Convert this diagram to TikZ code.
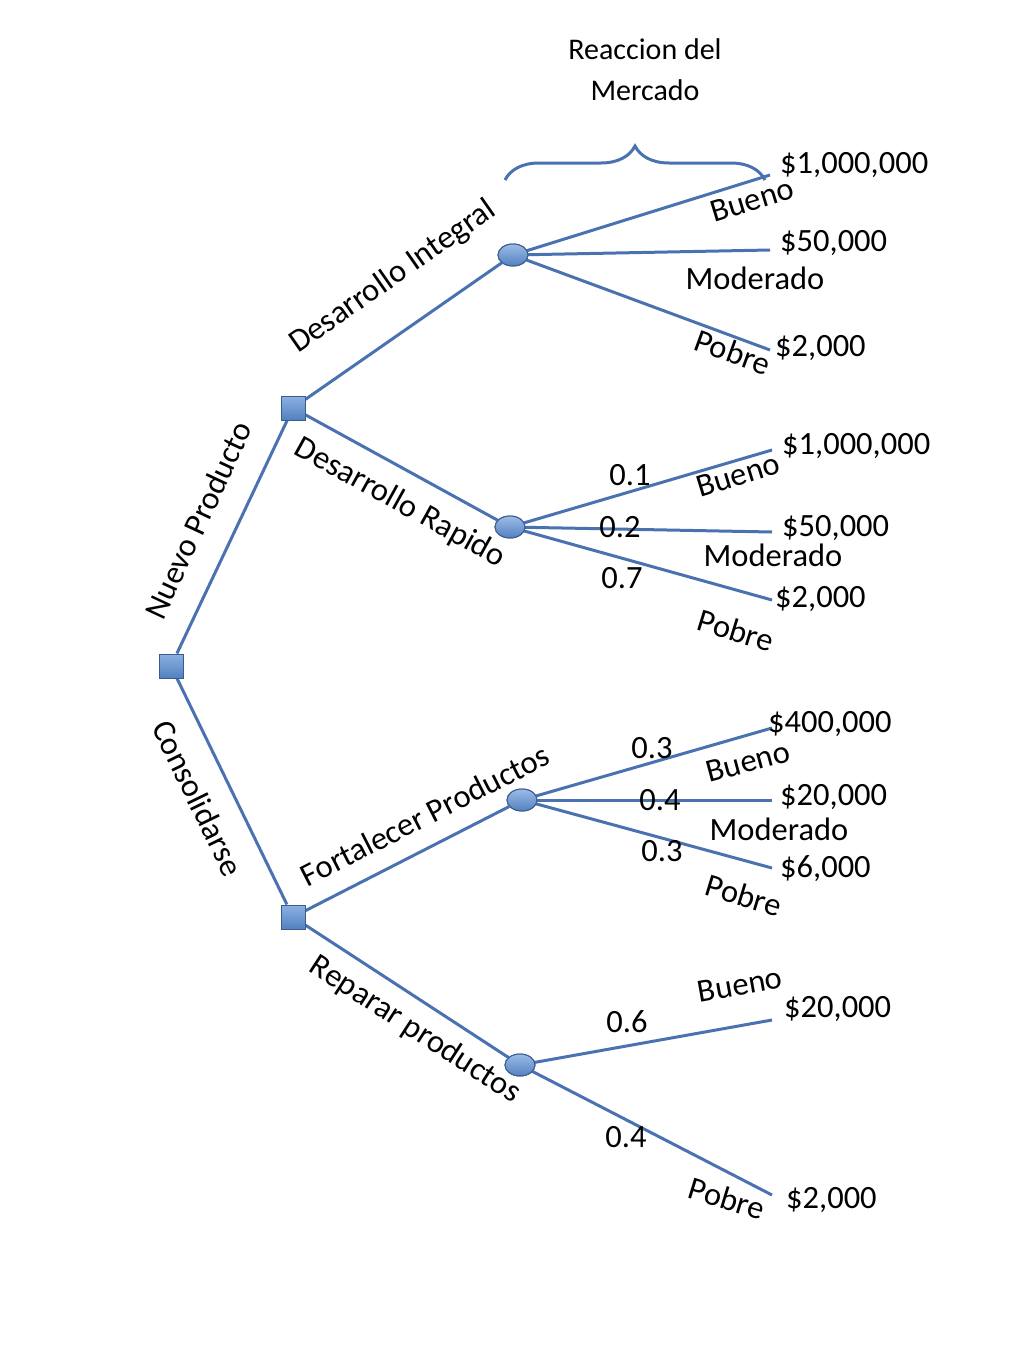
\documentclass[tikz,border=0pt]{standalone}
\usepackage{fontspec}
\setmainfont{Carlito}
\usetikzlibrary{decorations.pathreplacing,shapes.geometric}
\definecolor{ln}{HTML}{4A72B0}
\definecolor{nf}{HTML}{5B8FD6}
\begin{document}
\begin{tikzpicture}[x=1pt,y=-1pt,
  br/.style={draw=ln,line width=3pt},
  dec/.style={draw=ln!80!black,line width=1pt,minimum size=24pt,inner sep=0pt,top color=nf!70!white,bottom color=nf!90!black},
  chance/.style={ellipse,draw=ln!80!black,line width=1pt,minimum width=30pt,minimum height=22pt,inner sep=0pt,top color=nf!60!white,bottom color=nf!90!black},
  tx/.style={font=\fontsize{32.5}{38}\selectfont,inner sep=0pt},
  val/.style={tx,anchor=west}]
\useasboundingbox (0,0) rectangle (1024,1365);
\node[dec] (R) at (171,666) {};
\node[dec] (A) at (293,408) {};
\node[dec] (B) at (293,917) {};
\node[chance] (C1) at (513,255) {};
\node[chance] (C2) at (510,527) {};
\node[chance] (C3) at (522,800) {};
\node[chance] (C4) at (520,1065) {};
\foreach \n/\x/\y in {e11/770/175,e12/770/250,e13/770/350,e21/772/450,e22/772/532,e23/772/600,e31/772/728,e32/772/800,e33/772/868,e41/772/1020,e42/772/1195}
  \coordinate (\n) at (\x,\y);
\draw[br] (R)--(A); \draw[br] (R)--(B);
\draw[br] (A)--(C1); \draw[br] (A)--(C2);
\draw[br] (B)--(C3); \draw[br] (B)--(C4);
\foreach \c/\e in {C1/e11,C1/e12,C1/e13,C2/e21,C2/e22,C2/e23,C3/e31,C3/e32,C3/e33,C4/e41,C4/e42}
  \draw[br] (\c.center)--(\e);
\node[dec] at (R) {}; \node[dec] at (A) {}; \node[dec] at (B) {};
\node[chance] at (C1) {}; \node[chance] at (C2) {}; \node[chance] at (C3) {}; \node[chance] at (C4) {};
% values
\node[val] (v11) at (780,165) {\$1,000,000};
\node[val] (v12) at (780,243) {\$50,000};
\node[val] (v13) at (775,348) {\$2,000};
\node[val] (v21) at (782,446) {\$1,000,000};
\node[val] (v22) at (782,528) {\$50,000};
\node[val] (v23) at (775,599) {\$2,000};
\node[val] (v31) at (768,724) {\$400,000};
\node[val] (v32) at (780,797) {\$20,000};
\node[val] (v33) at (780,869) {\$6,000};
\node[val] (v41) at (784,1009) {\$20,000};
\node[val] (v42) at (786,1200) {\$2,000};
% branch labels
\node[tx,rotate=35] (lA) at (393,277) {Desarrollo Integral};
\node[tx,rotate=65] (lR) at (198,520) {Nuevo Producto};
\node[tx,rotate=-29] (lA2) at (400,503) {Desarrollo Rapido};
\node[tx,rotate=-64] (lB) at (198,798) {Consolidarse};
\node[tx,rotate=27] (lB1) at (425,815) {Fortalecer Productos};
\node[tx,rotate=-33] (lB2) at (415,1030) {Reparar productos};
% outcomes
\node[tx,rotate=17] (o11) at (752,200) {Bueno};
\node[tx] (o12) at (755,278) {Moderado};
\node[tx,rotate=-20] (o13) at (733,352) {Pobre};
\node[tx,rotate=17] (o21) at (738,475) {Bueno};
\node[tx] (o22) at (773,555) {Moderado};
\node[tx,rotate=-17] (o23) at (736,630) {Pobre};
\node[tx,rotate=15] (o31) at (748,762) {Bueno};
\node[tx] (o32) at (779,829) {Moderado};
\node[tx,rotate=-17] (o33) at (744,895) {Pobre};
\node[tx,rotate=10] (o41) at (740,985) {Bueno};
\node[tx,rotate=-17] (o42) at (727,1198) {Pobre};
% probabilities
\node[tx] (p21) at (630,475) {0.1};
\node[tx] (p22) at (620,527) {0.2};
\node[tx] (p23) at (622,578) {0.7};
\node[tx] (p31) at (652,748) {0.3};
\node[tx] (p32) at (660,800) {0.4};
\node[tx] (p33) at (662,851) {0.3};
\node[tx] (p41) at (627,1022) {0.6};
\node[tx] (p42) at (626,1137) {0.4};
% brace
\coordinate (bl) at (505,180);
\coordinate (brr) at (765,180);
\draw[ln,line width=3pt,decorate,decoration={brace,amplitude=34pt,aspect=0.5}] (bl)--(brr);
\node[tx,font=\fontsize{30}{41}\selectfont,align=center] (title) at (645,70) {Reaccion del\\Mercado};
\end{tikzpicture}
\end{document}
